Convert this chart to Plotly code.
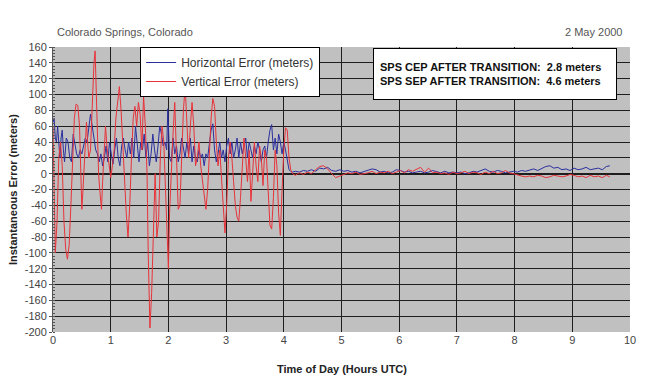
import plotly.graph_objects as go

# ---- data ----
h_time_active = [0.00, 0.02, 0.04, 0.06, 0.08, 0.10, 0.12, 0.14, 0.16, 0.18, 0.20, 0.23, 0.26, 0.29, 0.32, 0.35, 0.38, 0.41, 0.44, 0.47,
                 0.50, 0.53, 0.56, 0.59, 0.62, 0.65, 0.68, 0.71, 0.74, 0.77, 0.80, 0.83, 0.86, 0.89, 0.92, 0.95, 0.98, 1.01, 1.04, 1.07,
                 1.10, 1.13, 1.16, 1.19, 1.22, 1.25, 1.28, 1.31, 1.34, 1.37, 1.40, 1.43, 1.46, 1.49, 1.52, 1.55, 1.58, 1.61, 1.64, 1.67,
                 1.70, 1.73, 1.76, 1.79, 1.82, 1.85, 1.88, 1.91, 1.94, 1.97, 1.99, 2.02, 2.05, 2.08, 2.11, 2.14, 2.17, 2.20, 2.23, 2.26,
                 2.29, 2.32, 2.35, 2.38, 2.41, 2.44, 2.47, 2.50, 2.53, 2.56, 2.59, 2.62, 2.65, 2.68, 2.71, 2.74, 2.77, 2.80, 2.83, 2.86,
                 2.89, 2.92, 2.95, 2.98, 3.01, 3.04, 3.07, 3.10, 3.13, 3.16, 3.19, 3.22, 3.25, 3.28, 3.31, 3.34, 3.37, 3.40, 3.43, 3.46,
                 3.49, 3.52, 3.55, 3.58, 3.61, 3.64, 3.67, 3.70, 3.73, 3.76, 3.79, 3.82, 3.85, 3.88, 3.91, 3.94, 3.97, 4.00, 4.03, 4.06,
                 4.09, 4.12, 4.15]
h_err_active = [65, 70, 45, 40, 60, 35, 20, 45, 55, 30, 15, 45, 40, 20, 15, 50, 35, 25, 20, 30,
                25, 35, 45, 40, 60, 75, 60, 45, 30, 25, 15, 25, 10, 20, 35, 15, 40, 25, 12, 30,
                45, 20, 10, 35, 45, 30, 20, 40, 25, 45, 20, 60, 35, 15, 40, 30, 50, 20, 40, 10,
                25, 50, 30, 15, 35, 60, 50, 35, 40, 30, 82, 20, 15, 45, 25, 35, 15, 25, 45, 30,
                20, 40, 25, 45, 15, 35, 20, 15, 30, 20, 25, 10, 25, 20, 40, 55, 63, 30, 15, 25,
                40, 20, 30, 15, 35, 45, 25, 40, 20, 30, 45, 20, 40, 25, 35, 45, 20, 40, 30, 20,
                35, 25, 40, 30, 15, 30, 35, 20, 40, 55, 62, 30, 45, 25, 50, 40, 25, 40, 30, 15,
                5, 3, 2]

v_time_active = [0.00, 0.02, 0.04, 0.07, 0.10, 0.13, 0.16, 0.19, 0.22, 0.25, 0.28, 0.31, 0.34, 0.37, 0.40, 0.43, 0.46, 0.48, 0.50, 0.52,
                 0.55, 0.58, 0.60, 0.62, 0.65, 0.68, 0.71, 0.73, 0.75, 0.77, 0.79, 0.81, 0.84, 0.86, 0.89, 0.91, 0.94, 0.97, 1.00, 1.03,
                 1.06, 1.09, 1.12, 1.15, 1.18, 1.21, 1.24, 1.27, 1.30, 1.33, 1.36, 1.39, 1.42, 1.45, 1.48, 1.51, 1.54, 1.57, 1.60, 1.63,
                 1.65, 1.68, 1.71, 1.74, 1.77, 1.80, 1.83, 1.86, 1.89, 1.92, 1.95, 1.98, 2.00, 2.02, 2.05, 2.08, 2.11, 2.14, 2.17, 2.20,
                 2.23, 2.26, 2.29, 2.32, 2.35, 2.38, 2.41, 2.44, 2.47, 2.50, 2.53, 2.56, 2.59, 2.62, 2.65, 2.68, 2.71, 2.74, 2.77, 2.80,
                 2.83, 2.86, 2.89, 2.92, 2.95, 2.98, 3.01, 3.04, 3.07, 3.10, 3.13, 3.16, 3.19, 3.22, 3.25, 3.28, 3.31, 3.34, 3.37, 3.40,
                 3.43, 3.46, 3.49, 3.52, 3.55, 3.58, 3.61, 3.64, 3.67, 3.70, 3.73, 3.76, 3.79, 3.82, 3.85, 3.88, 3.91, 3.94, 3.97, 4.00,
                 4.03, 4.06, 4.09, 4.12, 4.15]
v_err_active = [60, -20, -100, -60, 20, 40, 10, -60, -95, -108, -90, -40, 20, 70, 88, 86, 60, -10, -45, -20,
                30, 65, 40, 20, 30, 90, 140, 155, 110, 40, 0, -20, -45, -10, 45, 60, 30, 10, -5, 10,
                30, 70, 95, 110, 80, 30, 0, -50, -80, -40, 20, 70, 85, 60, 90, 75, 30, 98, 60, 0,
                -100, -195, -150, -60, 0, -80, -60, 20, 60, 40, -20, -100, -120, -50, 10, 50, 90, 20, -45, -40,
                30, 80, 110, 70, 20, 60, 90, 60, 10, 20, 40, 10, -10, -30, -45, -20, 30, 70, 95, 85,
                40, 10, 30, -10, -40, -75, -40, 20, 40, 20, -10, -40, -55, -60, -30, 10, 45, 20, -10, 30,
                -35, 0, 40, 10, -10, 35, 20, -15, 30, 20, -20, -65, -70, -30, 30, 10, -50, -78, -20, 30,
                58, 55, 20, 5, 0]

quiet_time = [4.20, 4.27, 4.34, 4.41, 4.48, 4.55, 4.62, 4.69, 4.76, 4.83, 4.90, 4.97, 5.04, 5.11, 5.18, 5.25, 5.32, 5.39, 5.46, 5.53,
              5.60, 5.67, 5.74, 5.81, 5.88, 5.95, 6.02, 6.09, 6.16, 6.23, 6.30, 6.37, 6.44, 6.51, 6.58, 6.65, 6.72, 6.79, 6.86, 6.93,
              7.00, 7.07, 7.14, 7.21, 7.28, 7.35, 7.42, 7.49, 7.56, 7.63, 7.70, 7.77, 7.84, 7.91, 7.98, 8.05, 8.12, 8.19, 8.26, 8.33,
              8.40, 8.47, 8.54, 8.61, 8.68, 8.75, 8.82, 8.89, 8.96, 9.03, 9.10, 9.17, 9.24, 9.31, 9.38, 9.45, 9.52, 9.59, 9.65]
h_err_quiet = [3, 2, 4, 3, 5, 3, 7, 6, 8, 4, 3, 5, 3, 4, 2, 3, 1, 3, 4, 6,
               5, 2, 3, 1, 2, 5, 4, 2, 3, 1, 2, 3, 1, 2, 4, 2, 1, 3, 1, 2,
               1, 2, 0, 1, 3, 2, 4, 6, 3, 2, 4, 3, 1, 2, 3, 2, 4, 3, 5, 6,
               4, 7, 9, 10, 7, 8, 5, 6, 4, 7, 5, 6, 8, 5, 6, 7, 5, 9, 10]
v_err_quiet = [-2, 1, -1, 2, 0, 5, 9, 10, 6, 0, -5, -3, -1, 1, 0, 2, -1, 0, 1, 3,
               0, 2, 1, 3, 0, 2, 4, 1, 5, 3, 6, 8, 2, 7, 1, 2, 0, 1, -1, 2,
               0, 1, 3, 0, 2, 1, -1, 2, 0, 3, 0, 1, 4, 1, 0, -2, -3, -4, -3, -4,
               -2, -3, -5, -4, -2, -3, -4, -3, -1, -2, -4, -3, -5, -2, -4, -3, -5, -2, -4]

x_ticks = [0, 1, 2, 3, 4, 5, 6, 7, 8, 9, 10]
y_ticks = [160, 140, 120, 100, 80, 60, 40, 20, 0, -20, -40, -60, -80, -100, -120, -140, -160, -180, -200]

FONT = "Arial, Liberation Sans, sans-serif"

fig = go.Figure()
fig.add_trace(go.Scatter(
    x=h_time_active + quiet_time, y=h_err_active + h_err_quiet,
    mode="lines", name="Horizontal Error (meters)",
    line=dict(color="#2b2f9e", width=1)))
fig.add_trace(go.Scatter(
    x=v_time_active + quiet_time, y=v_err_active + v_err_quiet,
    mode="lines", name="Vertical Error (meters)",
    line=dict(color="#e8333a", width=1)))

fig.update_layout(
    width=656, height=381,
    margin=dict(l=53, r=26, t=47, b=49),
    paper_bgcolor="white", plot_bgcolor="#c0c0c0",
    font=dict(family=FONT, size=11, color="#333"),
    showlegend=True,
    legend=dict(x=0.151, y=1.0, xanchor="left", yanchor="top",
                bgcolor="white", bordercolor="black", borderwidth=1,
                font=dict(size=12, color="#333"), itemwidth=30,
                tracegroupgap=0),
    xaxis=dict(range=[0, 10], tickvals=x_ticks, ticktext=[str(v) for v in x_ticks],
               showgrid=True, gridcolor="#1e1e1e", gridwidth=1.2,
               zeroline=False, showline=False, ticks="", ticklen=0,
               tickfont=dict(size=11, color="#444")),
    yaxis=dict(range=[-200, 160], tickvals=y_ticks, ticktext=[str(v) for v in y_ticks],
               showgrid=True, gridcolor="#1e1e1e", gridwidth=1.2,
               zeroline=True, zerolinecolor="#1e1e1e", zerolinewidth=1.5,
               showline=True, linecolor="#555", linewidth=1,
               ticks="outside", ticklen=3, tickcolor="#555",
               minor=dict(dtick=4, ticks="inside", ticklen=2, tickcolor="#555", showgrid=False),
               tickfont=dict(size=11, color="#444")),
    annotations=[
        dict(text="Colorado Springs, Colorado", xref="paper", yref="paper",
             x=0.003, y=1.025, xanchor="left", yanchor="bottom", showarrow=False,
             font=dict(size=11, color="#555")),
        dict(text="2 May 2000", xref="paper", yref="paper",
             x=0.99, y=1.025, xanchor="right", yanchor="bottom", showarrow=False,
             font=dict(size=11, color="#555")),
        dict(text="<b>SPS CEP AFTER TRANSITION:  2.8 meters<br>SPS SEP AFTER TRANSITION:  4.6 meters</b>",
             xref="paper", yref="paper", x=0.766, y=0.905, xanchor="center", yanchor="middle",
             showarrow=False, align="left", bgcolor="white", bordercolor="black", borderwidth=1,
             borderpad=6, width=230, height=38, font=dict(size=11, color="#111")),
        dict(text="<b>Time of Day (Hours UTC)</b>", xref="paper", yref="paper",
             x=0.5, y=-0.1, xanchor="center", yanchor="top", showarrow=False,
             font=dict(size=11, color="#222")),
        dict(text="<b>Instantaneous Error (meters)</b>", xref="paper", yref="paper",
             x=-0.07, y=0.5, xanchor="center", yanchor="middle", showarrow=False,
             textangle=-90, font=dict(size=11, color="#222")),
    ],
)

fig.write_html("out.html", config={"displayModeBar": False},
               post_script="document.body.style.margin='0';document.body.style.overflow='hidden';")
